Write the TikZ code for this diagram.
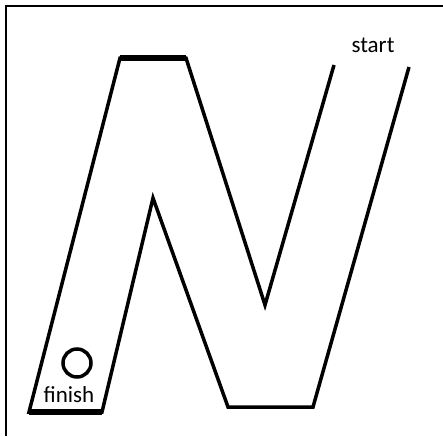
\documentclass[tikz,border=0pt]{standalone}
\usepackage{fontspec}
\setmainfont{Carlito}
\usepackage{tikz}

\begin{document}
\begin{tikzpicture}[
  x=1pt, y=-1pt,
  wall/.style={draw, line width=3.5pt, line join=miter},
  heavy/.style={draw, line width=5.5pt},
  frame/.style={draw, line width=1.5pt},
  lbl/.style={inner sep=0pt, font=\fontsize{23}{25}\selectfont}
]
\useasboundingbox (0,0) rectangle (443,436);

% frame
\draw[frame] (6,436) -- (6,6) -- (443,6);

% maze outline
\draw[wall] (334,65) -- (265,305) -- (186,58) -- (120,58) -- (29,412)
  -- (102,412) -- (153,198) -- (228,407) -- (313,407) -- (409,67);
\draw[heavy] (120,58) -- (186,58);
\draw[heavy] (29,412) -- (102,412);

% goal
\draw[line width=3.5pt] (77,363) circle (14);
\node[lbl] (finish) at (69,395) {finish};
\node[lbl] (start) at (373,45) {start};

\end{tikzpicture}
\end{document}
